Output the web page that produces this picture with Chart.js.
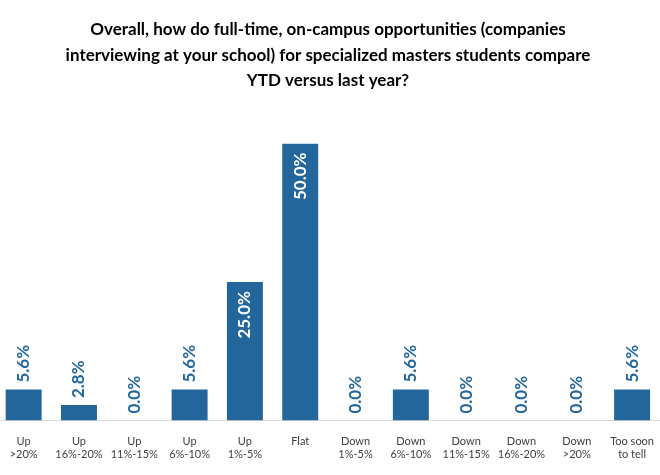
<!DOCTYPE html>
<html>
<head>
<meta charset="utf-8">
<script src="https://cdn.jsdelivr.net/npm/chart.js@4.4.1/dist/chart.umd.min.js"></script>
<style>
  body { margin: 0; background: #fff; overflow: hidden; }
  #wrap { position: relative; width: 664px; height: 475px; margin-left: -4px; }
</style>
</head>
<body>
<div id="wrap"><canvas id="chart"></canvas></div>
<script>
const categories = [
    ['Up', '>20%'], ['Up', '16%-20%'], ['Up', '11%-15%'], ['Up', '6%-10%'],
    ['Up', '1%-5%'], ['Flat'], ['Down', '1%-5%'], ['Down', '6%-10%'],
    ['Down', '11%-15%'], ['Down', '16%-20%'], ['Down', '>20%'], ['Too soon', 'to tell']
];
const shares = [5.6, 2.8, 0.0, 5.6, 25.0, 50.0, 0.0, 5.6, 0.0, 0.0, 0.0, 5.6];
const titleLines = [
    'Overall, how do full-time, on-campus opportunities (companies',
    'interviewing at your school) for specialized masters students compare',
    'YTD versus last year?'
];

const barColor = '#22669b';
const fontFamily = 'Lato, "Open Sans", sans-serif';

// draw the rotated value labels (no datalabels plugin offline)
const valueLabels = {
    id: 'valueLabels',
    afterDatasetsDraw(chart) {
        const ctx = chart.ctx;
        const meta = chart.getDatasetMeta(0);
        ctx.save();
        ctx.font = 'bold 17px ' + fontFamily;
        ctx.textBaseline = 'middle';
        meta.data.forEach((bar, i) => {
            const v = shares[i];
            const text = v.toFixed(1) + '%';
            ctx.save();
            ctx.translate(bar.x, bar.y);
            ctx.rotate(-Math.PI / 2);
            if (v >= 20) {
                ctx.fillStyle = '#ffffff';
                ctx.textAlign = 'right';
                ctx.fillText(text, -9, 0);
            } else {
                ctx.fillStyle = barColor;
                ctx.textAlign = 'left';
                ctx.fillText(text, 7, 0);
            }
            ctx.restore();
        });
        ctx.restore();
    }
};

new Chart(document.getElementById('chart'), {
    type: 'bar',
    data: {
        labels: categories,
        datasets: [{
            data: shares,
            backgroundColor: barColor,
            categoryPercentage: 1,
            barPercentage: 0.65
        }]
    },
    options: {
        responsive: true,
        maintainAspectRatio: false,
        animation: false,
        layout: { padding: { left: 0, right: 0, top: 0, bottom: 8 } },
        plugins: {
            legend: { display: false },
            tooltip: { enabled: false },
            title: {
                display: true,
                text: titleLines,
                color: '#000000',
                font: { family: fontFamily, size: 17, weight: 'bold', lineHeight: 1.5 },
                padding: { top: 17, bottom: 50 }
            }
        },
        scales: {
            x: {
                grid: { display: false },
                border: { color: '#d9d9d9', width: 1 },
                ticks: {
                    color: '#404040',
                    font: { family: fontFamily, size: 11 },
                    maxRotation: 0,
                    autoSkip: false,
                    padding: 6
                }
            },
            y: {
                display: false,
                min: 0,
                max: 50
            }
        }
    },
    plugins: [valueLabels]
});
</script>
</body>
</html>
